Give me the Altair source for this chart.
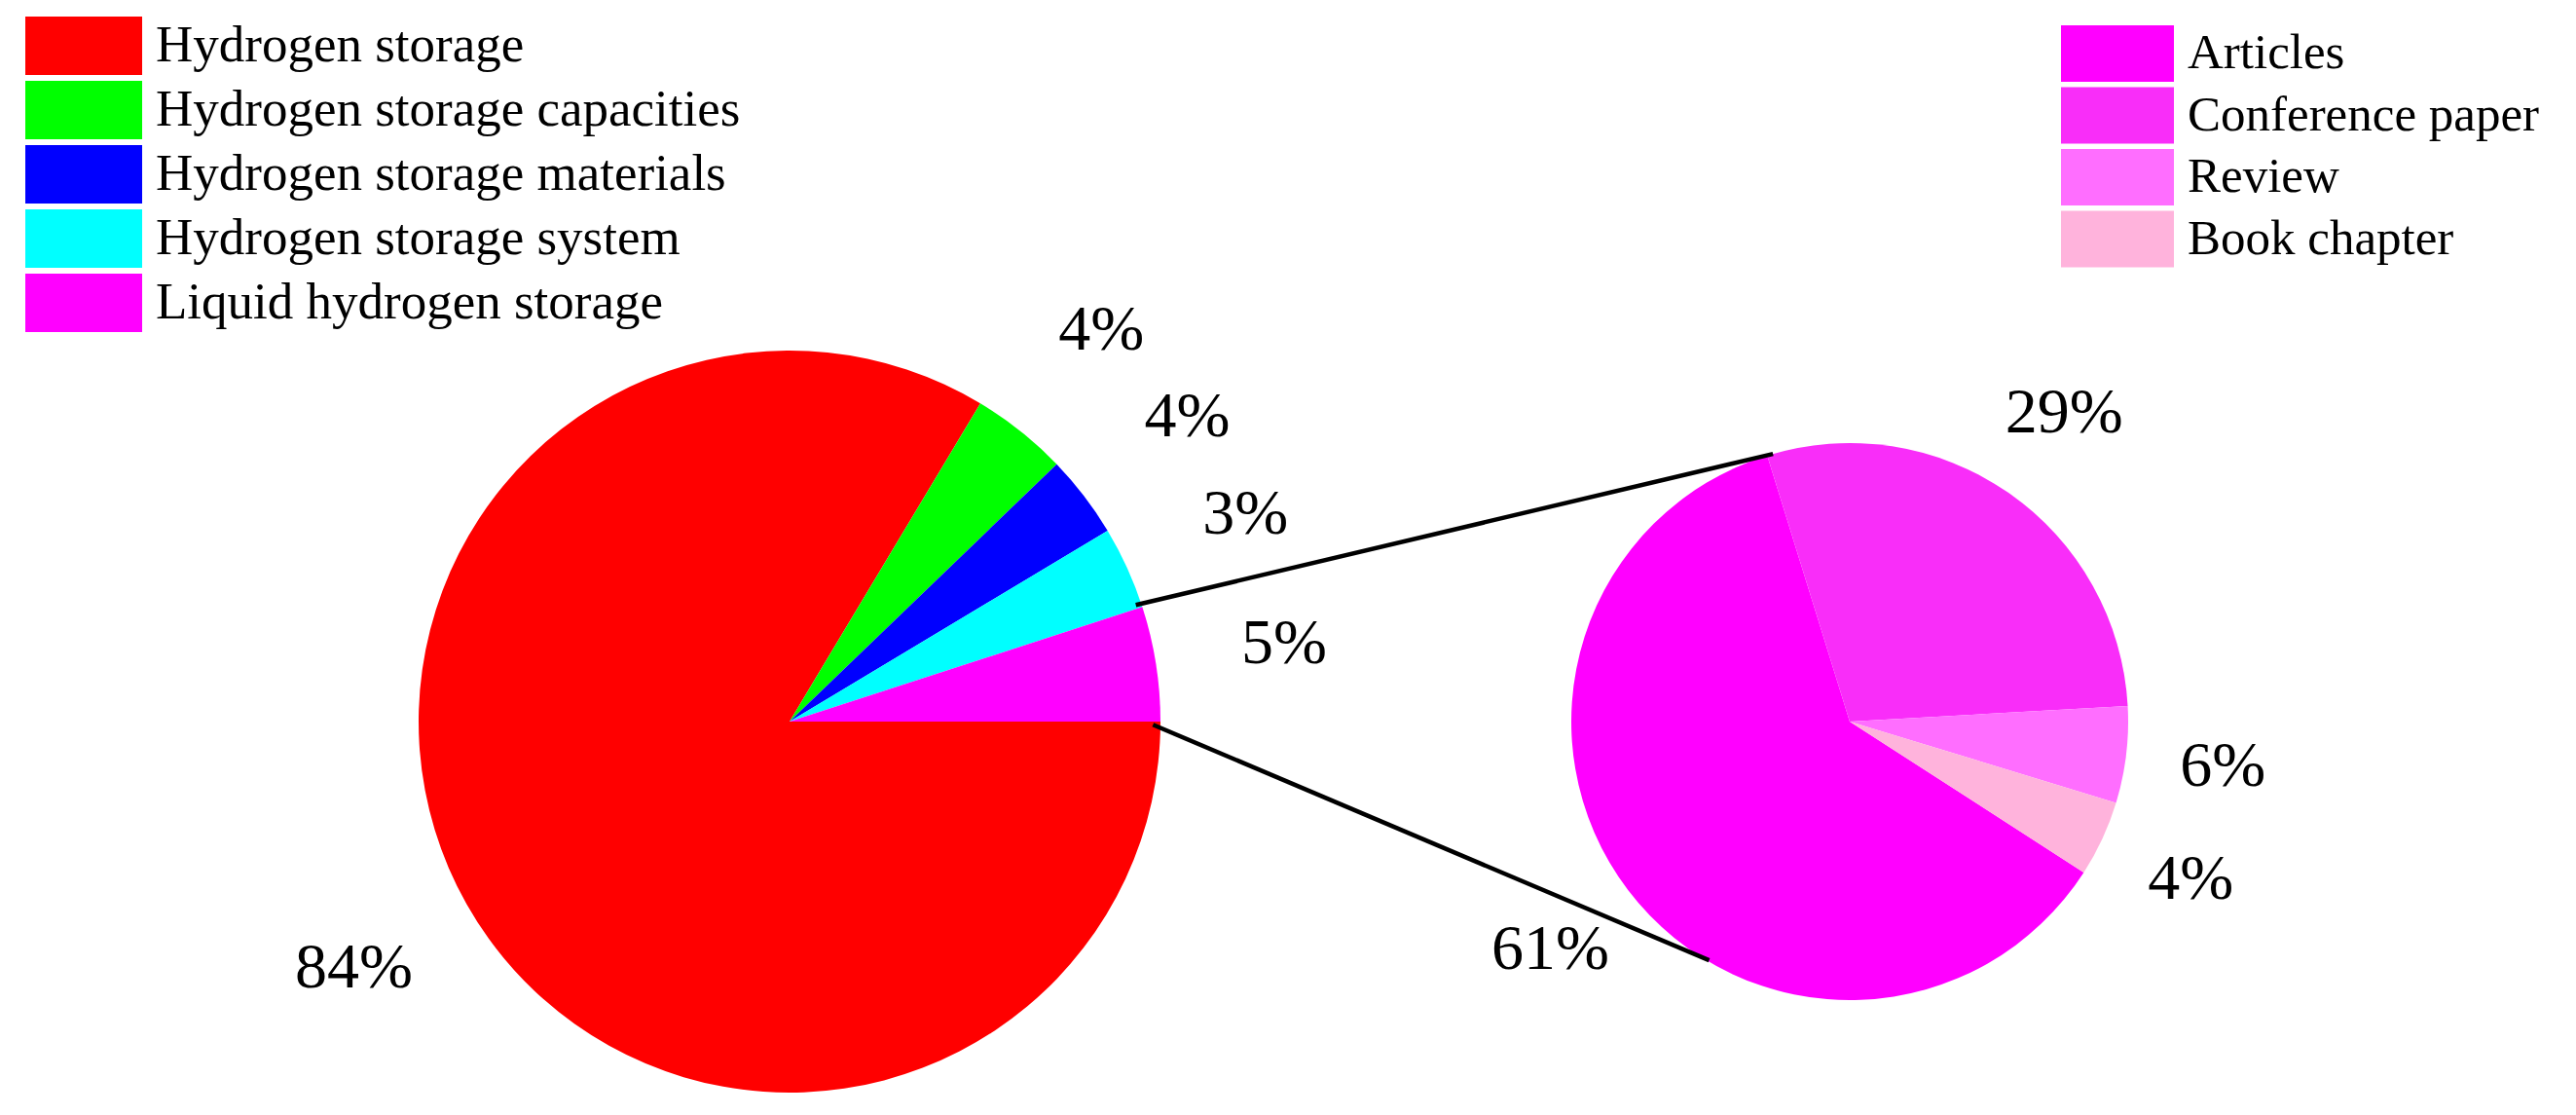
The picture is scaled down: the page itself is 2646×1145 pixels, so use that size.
import math
import altair as alt
import pandas as pd

# ---- data ----
topics = ["Hydrogen storage", "Hydrogen storage capacities", "Hydrogen storage materials",
          "Hydrogen storage system", "Liquid hydrogen storage"]
topic_values = [83.6, 4.2, 3.6, 3.6, 5.0]
topic_labels = ["84%", "4%", "4%", "3%", "5%"]
topic_colors = ["#FF0000", "#00FF00", "#0000FF", "#00FFFF", "#FF00FF"]

doc_types = ["Articles", "Conference paper", "Review", "Book chapter"]
doc_values = [61.1, 28.9, 5.6, 4.4]
doc_labels = ["61%", "29%", "6%", "4%"]
doc_colors = ["#FF00FF", "#F92DF9", "#FF6EFF", "#FFB3DC"]

# ---- layout ----
W, H = 2630, 1129
L_CX, L_CY, L_R = 803, 733, 381
R_CX, R_CY, R_R = 1892, 733, 286
FONT = "Liberation Serif"
SWATCH = "M-2,-1H2V1H-2Z"
L_START = math.pi / 2            # left pie starts at 3 o'clock, clockwise
R_START = math.radians(122.8)    # right pie rotation

left_df = pd.DataFrame({"topic": topics, "value": topic_values,
                        "label": topic_labels, "idx": list(range(len(topics)))})
right_df = pd.DataFrame({"doc": doc_types, "value": doc_values,
                         "label": doc_labels, "idx": list(range(len(doc_types)))})


def polar(cx, cy, r, deg):
    a = math.radians(deg)
    return cx + r * math.cos(a), cy - r * math.sin(a)


# connector lines: from the small slice of the left pie to the right pie
x1, y1 = polar(L_CX, L_CY, L_R * 0.985, 18.6)
x2, y2 = polar(R_CX, R_CY, R_R * 1.0, 106.0)
x3, y3 = polar(L_CX, L_CY, L_R * 0.98, -0.5)
x4, y4 = polar(R_CX, R_CY, R_R * 0.995, -120.5)
lines_df = pd.DataFrame({"x": [x1, x3], "y": [y1, y3], "x2": [x2, x4], "y2": [y2, y4]})

left_base = alt.Chart(left_df).encode(
    theta=alt.Theta("value:Q", stack=True,
                    scale=alt.Scale(range=[L_START, L_START + 2 * math.pi])),
    order=alt.Order("idx:Q"),
    x=alt.value(L_CX), y=alt.value(L_CY),
)
left_arc = left_base.mark_arc(radius=L_R).encode(
    color=alt.Color("topic:N", sort=topics,
                    scale=alt.Scale(domain=topics, range=topic_colors),
                    legend=alt.Legend(title=None, orient="none", legendX=48, legendY=9,
                                      symbolType=SWATCH, symbolSize=3600,
                                      symbolStrokeWidth=0, symbolOpacity=1,
                                      labelFont=FONT, labelFontSize=53, labelColor="black",
                                      labelLimit=1500, labelOffset=44, rowPadding=6,
                                      padding=0))
)
left_text = left_base.mark_text(radius=L_R * 1.35, font=FONT, fontSize=66, color="black",
                                align="center", baseline="middle").encode(text="label:N")

right_base = alt.Chart(right_df).encode(
    theta=alt.Theta("value:Q", stack=True,
                    scale=alt.Scale(range=[R_START, R_START + 2 * math.pi])),
    order=alt.Order("idx:Q"),
    x=alt.value(R_CX), y=alt.value(R_CY),
)
right_arc = right_base.mark_arc(radius=R_R).encode(
    color=alt.Color("doc:N", sort=doc_types,
                    scale=alt.Scale(domain=doc_types, range=doc_colors),
                    legend=alt.Legend(title=None, orient="none", legendX=2138, legendY=18,
                                      symbolType=SWATCH, symbolSize=3364,
                                      symbolStrokeWidth=0, symbolOpacity=1,
                                      labelFont=FONT, labelFontSize=51, labelColor="black",
                                      labelLimit=1500, labelOffset=43, rowPadding=5.5,
                                      padding=0))
)
right_text = right_base.mark_text(radius=R_R * 1.35, font=FONT, fontSize=66, color="black",
                                  align="center", baseline="middle").encode(text="label:N")

lines = alt.Chart(lines_df).mark_rule(color="black", strokeWidth=4.5).encode(
    x=alt.X("x:Q", scale=None), y=alt.Y("y:Q", scale=None),
    x2="x2:Q", y2="y2:Q",
)

chart = alt.layer(left_arc, left_text, right_arc, right_text, lines).resolve_scale(
    theta="independent", color="independent"
).properties(
    width=W, height=H, padding=0, autosize=alt.AutoSizeParams(type="none"),
    background="white",
).configure_view(strokeWidth=0)

chart.save("out.html", embed_options={"renderer": "svg", "actions": False})
